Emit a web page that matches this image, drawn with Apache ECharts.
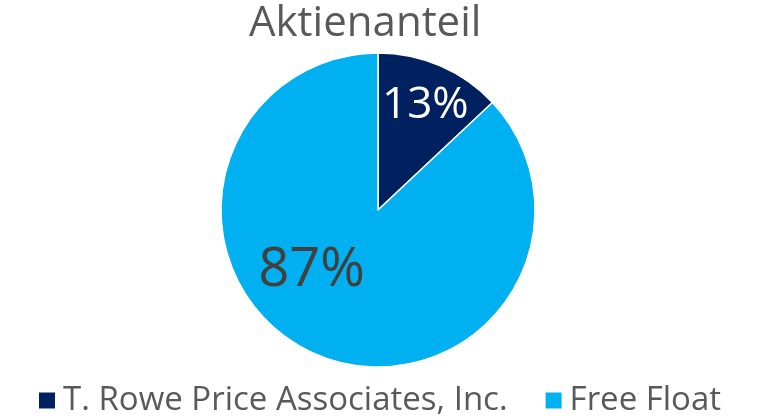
<!DOCTYPE html>
<html><head><meta charset="utf-8">
<script src="https://cdn.jsdelivr.net/npm/echarts@6/dist/echarts.min.js"></script>
<style>html,body{margin:0;padding:0;background:#fff}#c{width:758px;height:420px}</style>
</head><body><div id="c"></div>
<script>
const categories = ["T. Rowe Price Associates, Inc.", "Free Float"];
const values = [13, 87];
const colors = ["#002060", "#00B0F0"];
const chart = echarts.init(document.getElementById('c'));
const FONT = 'Open Sans';
chart.setOption({
  animation: false,
  title: {text: 'Aktienanteil', left: 244, top: -2,
    textStyle: {fontFamily: FONT, fontSize: 42, fontWeight: 'normal', color: '#595959'}},
  legend: {bottom: -2, left: 32, itemWidth: 18, itemHeight: 18, itemGap: 36, icon: 'rect',
    textStyle: {fontFamily: FONT, fontSize: 33, color: '#595959', padding: [0,0,0,2]},
    data: categories},
  series: [{
    type: 'pie', center: [378, 210], radius: [0, 157], startAngle: 90, clockwise: true,
    itemStyle: {borderColor: '#fff', borderWidth: 1.5},
    labelLine: {show: false},
    data: categories.map((n, i) => ({
      name: n, value: values[i], itemStyle: {color: colors[i]},
      label: {show: true, position: 'inside', formatter: '{d}%',
        fontFamily: FONT, fontSize: i === 0 ? 44 : 54,
        color: i === 0 ? '#ffffff' : '#404040',
        offset: i === 0 ? [15, -30] : [-34, -14]}
    }))
  }]
});
</script></body></html>
